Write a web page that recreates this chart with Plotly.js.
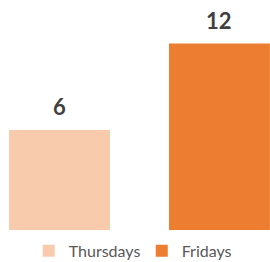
<!DOCTYPE html>
<html>
<head>
<meta charset="utf-8">
<script src="https://cdn.plot.ly/plotly-3.0.1.min.js"></script>
<style>html,body{margin:0;padding:0;background:#fff;}#chart{width:270px;height:262px;}</style>
</head>
<body>
<div id="chart"></div>
<script>
var seriesNames = ["Thursdays", "Fridays"];
var categories = ["Thursdays", "Fridays"];
var values = [6, 12];
var colors = ["#F8CBAD", "#ED7D31"];

var yMin = -0.936;
var traces = seriesNames.map(function (name, i) {
  return {
    type: "bar",
    name: name,
    x: [categories[i]],
    y: [values[i] - yMin],
    base: yMin,
    width: 0.631,
    marker: {color: colors[i]},
    hoverinfo: "skip"
  };
});

var annotations = categories.map(function (c, i) {
  return {
    x: c, y: values[i], xref: "x", yref: "y",
    text: "<b>" + values[i] + "</b>",
    showarrow: false, yanchor: "bottom", yshift: 8,
    font: {family: "Lato, sans-serif", size: 22, color: "#404040"}
  };
});

var layout = {
  width: 270, height: 262,
  margin: {l: 0, r: 0, t: 0, b: 32, pad: 0, autoexpand: false},
  paper_bgcolor: "#ffffff", plot_bgcolor: "#ffffff",
  barmode: "overlay",
  showlegend: true,
  legend: {orientation: "h", x: 0.525, xanchor: "center", y: -0.091, yanchor: "middle",
           font: {family: "Lato, sans-serif", size: 16, color: "#595959"},
           itemwidth: 30, traceorder: "normal", entrywidth: 68, entrywidthmode: "pixels"},
  xaxis: {type: "category", categoryarray: categories, range: [-0.372, 1.316], visible: false, fixedrange: true},
  yaxis: {range: [yMin, 15.02], visible: false, fixedrange: true},
  annotations: annotations
};

Plotly.newPlot("chart", traces, layout, {displayModeBar: false, staticPlot: true});
</script>
</body>
</html>
